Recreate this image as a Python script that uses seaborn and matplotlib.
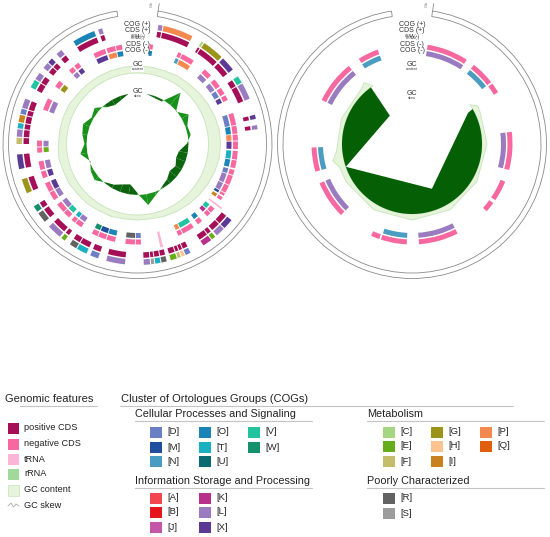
import numpy as np
import matplotlib
matplotlib.use("Agg")
import matplotlib.pyplot as plt
import seaborn as sns
from matplotlib.patches import Rectangle

# ---- COG categories and colours ----
cog_codes = ["D", "M", "N", "O", "T", "U", "V", "W",
             "A", "B", "J", "K", "L", "X",
             "C", "E", "F", "G", "H", "I", "P", "Q",
             "R", "S"]
cog_hex = ["#6a7fc4", "#1f4e9e", "#4a9cc0", "#1a84b6", "#19b0c0", "#0b6a72", "#22c4a0", "#15906c",
           "#f2474e", "#e4161c", "#c456aa", "#b7308c", "#9a7bc0", "#5b3a96",
           "#a5d783", "#67ad1a", "#c4bd69", "#9c9419", "#fdc48f", "#c98220", "#f4894f", "#e05f0f",
           "#626262", "#9c9c9c"]
cog_color = dict(zip(cog_codes, cog_hex))

# ---- genomic feature colours ----
feature_names = ["positive CDS", "negative CDS", "tRNA", "rRNA", "GC content", "GC skew"]
feature_colors = ["#a50f57", "#f768a1", "#fbb5d6", "#a1d99b", "#e6f4dc", "none"]

# ---- left genome: genes (degrees clockwise from top) ----
left_pos_start = [10, 12.5, 32, 33.5, 45, 56, 60, 76, 81, 129, 134.5, 140, 142.5,
                  154, 157, 159, 161, 166, 169, 172, 174, 186, 199, 205, 210.5, 217,
                  220, 230, 236, 246, 258, 270, 273.5, 277.5, 280.5, 284.5, 287.5,
                  298, 302.5, 309, 312.5, 318, 328, 341]
left_pos_end = [12, 27, 33, 44, 52, 59.5, 68, 78, 83, 134, 139, 142, 147,
                156.5, 158.5, 160.5, 164, 168.5, 171.5, 173.5, 177, 195, 203, 210, 214, 219,
                227, 235, 239, 253, 265, 273, 277, 280, 284, 287, 292,
                302, 306, 312, 315, 321, 339, 343]
left_pos_cog = ["L", "P", "C", "G", "X", "V", "L", "X", "L", "X", "L", "E", "K",
                "D", "H", "F", "E", "R", "T", "S", "L", "L", "D", "T", "R", "E",
                "L", "R", "W", "G", "X", "F", "L", "T", "I", "D", "L",
                "V", "L", "L", "X", "L", "O", "L"]

left_neg_start = [7, 24, 26.5, 42, 50, 56, 61, 72, 79.5, 84.5, 88.5, 94, 99.5, 105,
                  108.5, 114.5, 119.5, 122, 130, 133.5, 140, 146, 153.5, 178, 181.5,
                  193, 198.5, 203.5, 214, 218.5, 223, 227.5, 236, 241.5, 250, 255,
                  265, 268.5, 290, 305, 317, 321, 334, 342, 347.5]
left_neg_end = [9, 26, 34, 47, 55, 60, 64, 79, 84, 88, 93, 99, 104, 108,
                114, 119, 121, 124, 133, 136, 143, 153, 156, 181, 187,
                198, 203, 207, 218, 221, 227, 233, 241, 247, 254, 260,
                268, 272, 297, 309, 320, 324, 341, 347, 351]
left_neg_cog = ["O", "N", "P", "L", "L", "D", "X", "D", "O", "P", "X", "T", "O", "D",
                "L", "L", "M", "I", "V", "K", "O", "V", "P", "D", "R",
                "O", "M", "W", "L", "T", "V", "L", "L", "X", "X", "L",
                "E", "L", "L", "G", "L", "X", "X", "P", "O"]

left_trna_start = [127, 166]
left_trna_end = [128, 167.5]

# ---- left genome: GC content and GC skew, one value every 10 degrees ----
left_angle = [0, 10, 20, 30, 40, 50, 60, 70, 80, 90, 100, 110, 120, 130, 140, 150, 160, 170,
              180, 190, 200, 210, 220, 230, 240, 250, 260, 270, 280, 290, 300, 310, 320, 330,
              340, 350]
left_gc = [78, 78, 78, 79, 79, 80, 81, 82, 83, 83, 83, 82, 81, 80, 79, 78, 77, 76,
           76, 76, 77, 77, 78, 78, 79, 79, 80, 79, 79, 79, 79, 78, 78, 78,
           78, 78]
left_skew = [0, 0, -2, -2, 16, -1, 8, 2, 3, -2, -9, -10, -7, -9, -5, -2, 3, 11,
             -2, -10, -8, -4, -1, 5, 3, -1, 7, 2, 5, 7, 2, 5, -3, -6,
             -4, 0]

# ---- right genome: genes (all on the negative strand) ----
right_neg_start = [9, 38, 53, 83, 112, 126, 153, 183, 199, 225, 254, 296, 328]
right_neg_end = [33, 52, 59, 105, 124, 132, 176, 198, 204, 247, 268, 321, 340]
right_neg_cog = ["L", "N", "", "L", "", "", "L", "N", "", "L", "N", "L", "N"]

# ---- right genome: GC content and GC skew ----
right_gc_angle = [56, 60, 66, 90, 120, 150, 180, 210, 240, 252, 258, 264, 290, 318, 322, 326]
right_gc = [70, 76, 75, 75, 75, 76, 76, 76, 76, 76, 81, 76, 75, 75, 78, 70]
right_skew_angle = [60, 61, 156, 251, 322, 324]
right_skew = [70, 64, 49, 70, 36, 68]

# ---- track radii (pixels) ----
R_MAX = 145
RING = (129, 134.5)
COG_P = (115.5, 121)
CDS_P = (108.5, 114)
TRNA_P = (105.5, 107)
TRNA_N = (103, 104.5)
CDS_N = (95.5, 100.5)
COG_N = (89, 94)
GC_BASE_L = 71
SKEW_BASE_L = 51
GC_BASE_R = 70

sns.set_theme(style="white")
plt.rcParams["font.family"] = ["Liberation Sans", "DejaVu Sans"]

W, H = 550, 537
fig = plt.figure(figsize=(W / 100, H / 100), dpi=100)

# legend canvas in pixel units
lax = fig.add_axes([0, 0, 1, 1])
lax.set_xlim(0, W)
lax.set_ylim(H, 0)
lax.axis("off")


def polar_axes(cx, cy):
    ax = fig.add_axes([(cx - R_MAX) / W, (H - cy - R_MAX) / H, 2 * R_MAX / W, 2 * R_MAX / H],
                      projection="polar")
    ax.set_theta_zero_location("N")
    ax.set_theta_direction(-1)
    ax.set_ylim(0, R_MAX)
    ax.axis("off")
    return ax


def arcs(ax, starts, ends, track, colors):
    s = np.asarray(starts, float)
    e = np.asarray(ends, float)
    ax.bar(np.deg2rad((s + e) / 2), track[1] - track[0], width=np.deg2rad(e - s),
           bottom=track[0], color=colors, linewidth=0)


def genes(ax, starts, ends, cogs, cds_track, cog_track, cds_color):
    arcs(ax, starts, ends, cds_track, cds_color)
    keep = [i for i, c in enumerate(cogs) if c]
    arcs(ax, [starts[i] for i in keep], [ends[i] for i in keep], cog_track,
         [cog_color[cogs[i]] for i in keep])


def circle_pts(a0, a1, n=240):
    return np.linspace(a0, a1, n)


def band(ax, angles, values, base, closed, face, edge):
    # polygon: data vertices outward, plain baseline circle back
    a = list(angles)
    v = list(values)
    if closed:
        a = a + [a[0] + 360]
        v = v + [v[0]]
    back = circle_pts(a[-1], a[0])
    t = np.deg2rad(np.concatenate([a, back]))
    r = np.concatenate([v, np.full(back.size, float(base))])
    ax.fill(t, r, facecolor=face, edgecolor="none", zorder=2)
    ax.plot(np.deg2rad(a), v, color=edge, lw=0.7, zorder=2)
    ax.plot(np.deg2rad(back), np.full(back.size, float(base)), color=edge, lw=0.7, zorder=2)


def skew_fill(ax, angles, values, base, pos_color, neg_color):
    a = list(angles) + [angles[0] + 360]
    v = [base + x for x in values] + [base + values[0]]
    for i in range(len(a) - 1):
        a0, a1, v0, v1 = a[i], a[i + 1], v[i], v[i + 1]
        if (v0 - base) * (v1 - base) < 0:
            ac = a0 + (a1 - a0) * (v0 - base) / (v0 - v1)
            pieces = [([a0, a0, ac], [base, v0, base], v0),
                      ([ac, a1, a1], [base, v1, base], v1)]
        else:
            pieces = [([a0, a0, a1, a1], [base, v0, v1, base], v0 + v1 - 2 * base)]
        for pa, pr, sgn in pieces:
            if sgn == 0:
                continue
            ax.fill(np.deg2rad(pa), pr, color=pos_color if sgn > 0 else neg_color,
                    linewidth=0, zorder=3)


def frame(ax, skew_r):
    # outer ruler ring with the opening at the origin
    ax.bar(np.deg2rad(180), RING[1] - RING[0], width=np.deg2rad(342.4), bottom=RING[0],
           facecolor="white", edgecolor="#8a8a8a", linewidth=0.6)
    ax.plot([np.deg2rad(8.8), np.deg2rad(8.8)], [RING[1], 142], color="#8a8a8a", lw=0.6)
    ax.text(np.deg2rad(6.0), 140, "0 kb", fontsize=1.8, rotation=90, ha="center",
            va="center", color="#666666")
    labels = [("COG (+)", 120, 5.0), ("CDS (+)", 113.5, 5.0), ("tRNA (+)", 108.5, 2.6),
              ("tRNA (-)", 105.5, 2.6), ("CDS (-)", 99.5, 5.0), ("COG (-)", 93, 5.0)]
    for txt, r, fs in labels:
        ax.text(0, r, txt, ha="center", va="center", fontsize=fs, color="#333333")
    ax.text(0, 79, "GC", ha="center", va="center", fontsize=5.0, color="#333333",
            bbox=dict(facecolor="white", edgecolor="none", pad=0.4))
    ax.text(0, 74.5, "content", ha="center", va="center", fontsize=2.6, color="#333333",
            bbox=dict(facecolor="white", edgecolor="none", pad=0.3))
    ax.text(0, skew_r + 2.5, "GC", ha="center", va="center", fontsize=5.0, color="#333333")
    ax.text(0, skew_r - 1.8, "skew", ha="center", va="center", fontsize=2.4, color="#333333")


# ---------------- left genome ----------------
axl = polar_axes(137.5, 144)
genes(axl, left_pos_start, left_pos_end, left_pos_cog, CDS_P, COG_P, feature_colors[0])
genes(axl, left_neg_start, left_neg_end, left_neg_cog, CDS_N, COG_N, feature_colors[1])
arcs(axl, left_trna_start, left_trna_end, (90, 106), feature_colors[2])
band(axl, left_angle, left_gc, GC_BASE_L, True, "#e6f4dc", "#cbe7bf")
skew_fill(axl, left_angle, left_skew, SKEW_BASE_L, "#18911a", "#0c650e")
frame(axl, 50)

# ---------------- right genome ----------------
axr = polar_axes(412, 144)
genes(axr, right_neg_start, right_neg_end, right_neg_cog, CDS_N, COG_N, feature_colors[1])
band(axr, right_gc_angle, right_gc, GC_BASE_R, False, "#e6f4dc", "#cbe7bf")
base = circle_pts(right_skew_angle[0], right_skew_angle[-1])
poly_t = np.deg2rad(np.concatenate([base, right_skew_angle[::-1]]))
poly_r = np.concatenate([np.full(base.size, float(GC_BASE_R)), right_skew[::-1]])
axr.fill(poly_t, poly_r, color="#056005", linewidth=0, zorder=3)
frame(axr, 48)

# ---------------- legend ----------------
txt_kw = dict(va="center", color="#222222")
line_kw = dict(color="#c4c4c4", lw=0.8)

lax.text(5, 399, "Genomic features", fontsize=8, **txt_kw)
lax.plot([20, 97], [405.5, 405.5], **line_kw)
feature_y = [428, 444, 459, 474, 490, 505]
for name, col, y in zip(feature_names, feature_colors, feature_y):
    if name == "GC skew":
        lax.plot([8, 11, 13.5, 16, 19], [y + 1, y - 2, y + 2, y - 1, y + 1],
                 color="#aaaaaa", lw=0.6)
    else:
        edge = "#cbe7bf" if name == "GC content" else "none"
        lax.add_patch(Rectangle((8, y - 5.5), 11, 11, facecolor=col, edgecolor=edge, lw=0.6))
    lax.text(24, y, name, fontsize=6.6, **txt_kw)

lax.text(121, 399, "Cluster of Ortologues Groups (COGs)", fontsize=8, **txt_kw)
lax.plot([120, 513], [405.5, 405.5], **line_kw)

cog_groups = [
    ("Cellular Processes and Signaling", 135, 414, 312, [150, 199, 248],
     [["D", "M", "N"], ["O", "T", "U"], ["V", "W"]], [432, 447, 461]),
    ("Information Storage and Processing", 135, 481, 312, [150, 199],
     [["A", "B", "J"], ["K", "L", "X"]], [498, 512, 527]),
    ("Metabolism", 367, 414, 544, [383, 431, 480],
     [["C", "E", "F"], ["G", "H", "I"], ["P", "Q"]], [432, 446, 461]),
    ("Poorly Characterized", 367, 481, 544, [383], [["R", "S"]], [498, 513]),
]
for title, x0, y0, x1, col_x, columns, rows in cog_groups:
    lax.text(x0, y0, title, fontsize=7.8, **txt_kw)
    lax.plot([x0, x1], [y0 + 6.5, y0 + 6.5], **line_kw)
    for cx, codes in zip(col_x, columns):
        for code, y in zip(codes, rows):
            lax.add_patch(Rectangle((cx, y - 5.5), 11.5, 11, facecolor=cog_color[code],
                                    edgecolor="none"))
            lax.text(cx + 17, y, "[" + code + "]", fontsize=6.8, **txt_kw)

fig.savefig("out.png", dpi=100)
